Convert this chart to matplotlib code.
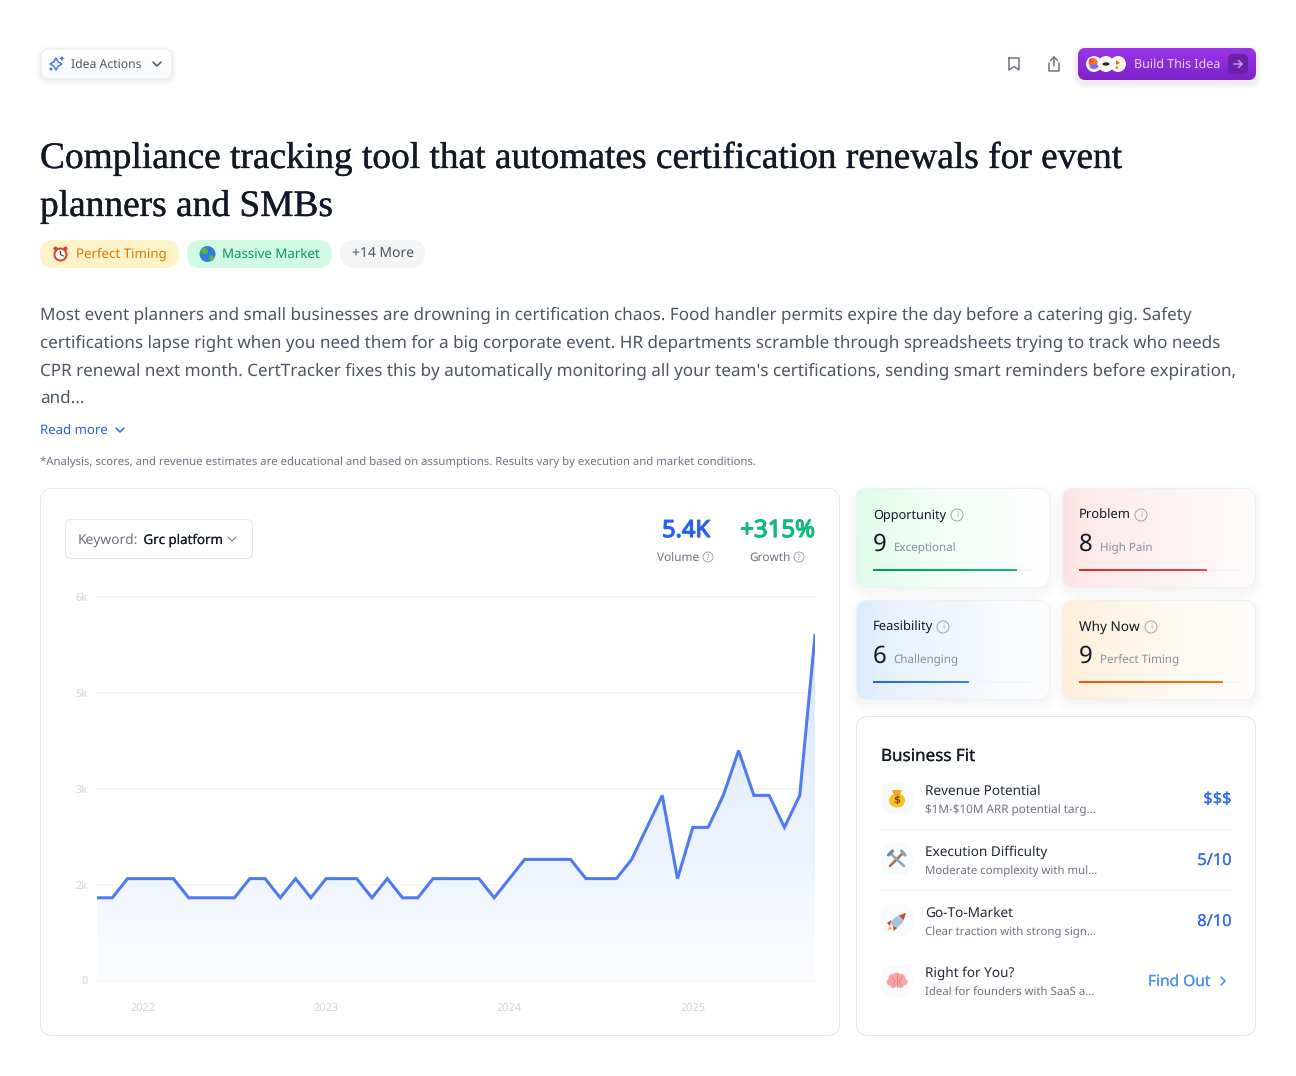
import matplotlib
matplotlib.use("Agg")
import matplotlib.pyplot as plt
import matplotlib.patheffects as pe
import numpy as np
from matplotlib.colors import to_rgb
from matplotlib.patches import Circle, Ellipse, FancyBboxPatch, Polygon

plt.rcParams["text.hinting"] = "no_hinting"
plt.rcParams["text.hinting_factor"] = 1

# search volume, one value per month
volume = [1300, 1300, 1600, 1600, 1600, 1600, 1300, 1300, 1300, 1300, 1600, 1600,
          1300, 1600, 1300, 1600, 1600, 1600, 1300, 1600, 1300, 1300, 1600, 1600,
          1600, 1600, 1300, 1600, 1900, 1900, 1900, 1900, 1600, 1600, 1600, 1900,
          2400, 2900, 1600, 2400, 2400, 2900, 3600, 2900, 2900, 2400, 2900, 5400]
year_ticks = [3, 15, 27, 39]
year_labels = ["2022", "2023", "2024", "2025"]
y_ticks = [0, 1500, 3000, 4500, 6000]
y_labels = ["0", "2k", "3k", "5k", "6k"]

title_lines = ["Compliance tracking tool that automates certification renewals for event",
               "planners and SMBs"]
body_lines = ["Most event planners and small businesses are drowning in certification chaos. Food handler permits expire the day before a catering gig. Safety",
              "certifications lapse right when you need them for a big corporate event. HR departments scramble through spreadsheets trying to track who needs",
              "CPR renewal next month. CertTracker fixes this by automatically monitoring all your team's certifications, sending smart reminders before expiration,",
              "and..."]
disclaimer = "*Analysis, scores, and revenue estimates are educational and based on assumptions. Results vary by execution and market conditions."

score_names = ["Opportunity", "Problem", "Feasibility", "Why Now"]
score_values = [9, 8, 6, 9]
score_notes = ["Exceptional", "High Pain", "Challenging", "Perfect Timing"]

fit_names = ["Revenue Potential", "Execution Difficulty", "Go-To-Market", "Right for You?"]
fit_notes = ["$1M-$10M ARR potential targ...", "Moderate complexity with mul...",
             "Clear traction with strong sign...", "Ideal for founders with SaaS a..."]
fit_values = ["$$$", "5/10", "8/10"]

FONT = "Noto Sans"
INK = "#111827"
GREY = "#6b7280"
BLUE = "#2563eb"

fig = plt.figure(figsize=(12.96, 10.76), dpi=100, facecolor="white")
ui = fig.add_axes([0, 0, 1, 1])
ui.set_xlim(0, 1296)
ui.set_ylim(1076, 0)
ui.axis("off")


def t(x, y, s, px, color=INK, ha="left", family=FONT, stroke=0, z=10):
    txt = ui.text(x, y, s, fontsize=px * 0.72, color=color, ha=ha, va="baseline",
                  family=family, zorder=z, parse_math=False)
    if stroke:
        txt.set_path_effects([pe.withStroke(linewidth=stroke, foreground=color)])


def rbox(x0, y0, x1, y1, r, fc="white", ec="none", lw=1.0, z=3):
    p = FancyBboxPatch((x0 + r, y0 + r), x1 - x0 - 2 * r, y1 - y0 - 2 * r,
                       boxstyle=f"round,pad={r}", fc=fc, ec=ec, lw=lw * 0.72, zorder=z)
    ui.add_patch(p)
    return p


def shadow(x0, y0, x1, y1, r, dy=3, spread=7, alpha=0.012, z=2):
    for i in range(spread, 0, -1):
        p = rbox(x0 - i, y0 - i + dy, x1 + i, y1 + i + dy, r + i, fc="#0f172a", z=z)
        p.set_alpha(alpha)


def grad(x0, y0, x1, y1, c0, c1, clip=None, horizontal=True, ease=1.0, z=3):
    a, b = np.array(to_rgb(c0)), np.array(to_rgb(c1))
    n = (np.linspace(0, 1, 64) ** ease)[:, None] * (b - a) + a
    img = n[None, :, :] if horizontal else n[:, None, :]
    im = ui.imshow(img, extent=(x0, x1, y1, y0), aspect="auto", interpolation="bilinear", zorder=z)
    if clip is not None:
        im.set_clip_path(clip)
    return im


def info(x, y, mark, r=5.5, color="#9ca3af"):
    ui.add_patch(Circle((x, y), r, fc="none", ec=color, lw=0.7, zorder=9))
    ui.text(x, y + 0.3, mark, fontsize=6, color=color, ha="center", va="center", family=FONT, zorder=10)


def icon_line(xs, ys, color, lw=1.5, z=9):
    ui.plot(xs, ys, color=color, lw=lw * 0.72, solid_capstyle="round", solid_joinstyle="round", zorder=z)


# top bar
shadow(41, 49, 172, 79, 8, dy=2, spread=5, alpha=0.01)
btn = rbox(41, 49, 172, 79, 8, fc="white")
grad(41, 49, 172, 79, "#ffffff", "#f8fafc", clip=btn, horizontal=False, z=3)
rbox(41, 49, 172, 79, 8, fc="none", ec="#e5e7eb", lw=1, z=4)
ui.scatter([56], [64], marker=(4, 1, 0), s=75, facecolor="none", edgecolor="#3b6ff0", linewidth=1.0, zorder=9)
ui.scatter([62, 51], [58.5, 69], marker=(4, 1, 0), s=[14, 10], color="#3b6ff0", linewidth=0, zorder=9)
t(71, 68, "Idea Actions", 12.2, "#4b5563")
icon_line([153, 157, 161], [62, 66, 62], "#4b5563")

icon_line([1009, 1009, 1014, 1019, 1019, 1009], [58, 70, 66.5, 70, 58, 58], GREY)
icon_line([1049, 1049, 1059, 1059], [63, 70.5, 70.5, 63], GREY)
icon_line([1054, 1054], [66, 57], GREY)
icon_line([1050.5, 1054, 1057.5], [60.5, 57, 60.5], GREY)

shadow(1078, 48, 1256, 80, 8, dy=3, spread=6, alpha=0.012)
build = rbox(1078, 48, 1256, 80, 8, fc="#9333ea")
grad(1078, 48, 1256, 80, "#9a35ea", "#7c22c8", clip=build, horizontal=False, z=3)
rbox(1228, 54, 1248, 74, 5, fc="#6b21a8", z=5)
for cx in [1118, 1106, 1094]:
    ui.add_patch(Circle((cx, 64), 8, fc="#f8f8f8", ec="none", zorder=6))
ui.add_patch(Circle((1093, 62.5), 4.5, fc="#f97316", zorder=7))
ui.add_patch(Ellipse((1094, 66.5), 9, 5, fc="#8b6cf0", zorder=7))
ui.add_patch(Circle((1091, 60.5), 2, fc="#f43f5e", zorder=8))
ui.add_patch(Ellipse((1106, 64), 7, 3.2, fc="#222222", zorder=7))
ui.add_patch(Polygon([(1116, 60), (1120, 63), (1116, 65)], fc="#f97316", zorder=7))
ui.add_patch(Circle((1117, 67.5), 1.5, fc="#f59e0b", zorder=7))
t(1134.5, 68, "Build This Idea", 12.5, "#e9d9fb")
icon_line([1234, 1242], [64, 64], "#c9a4ee")
icon_line([1238.5, 1242, 1238.5], [60.5, 64, 67.5], "#c9a4ee")

# title and tags
t(40, 168, title_lines[0], 37.4, "#111827", family="Liberation Serif", stroke=0.25)
t(40, 216, title_lines[1], 37.4, "#111827", family="Liberation Serif", stroke=0.25)

rbox(40, 240, 179, 268, 14, fc="#fef3c7")
rbox(187, 240, 332, 268, 14, fc="#d1fae5")
rbox(340, 240, 425, 268, 14, fc="#f3f4f6")
ui.add_patch(Circle((60.5, 254.5), 6, fc="#fff7ed", ec="#dc3c32", lw=1.4, zorder=8))
icon_line([60.5, 60.5, 63.5], [251, 254.5, 256], "#333333", lw=1)
ui.add_patch(Circle((55.5, 248.5), 2, fc="#dc3c32", zorder=8))
ui.add_patch(Circle((65.5, 248.5), 2, fc="#dc3c32", zorder=8))
ui.add_patch(Circle((207.5, 254), 8, fc="#2f80d8", zorder=8))
ui.add_patch(Ellipse((204.5, 251), 7, 6, fc="#63b23f", zorder=9))
ui.add_patch(Ellipse((211.5, 258), 4.5, 6, fc="#63b23f", zorder=9))
t(75.5, 258, "Perfect Timing", 13.3, "#d97706")
t(222, 258, "Massive Market", 13.3, "#059669")
t(352, 258, "+14 More", 13.9, "#4b5563")

# description
for i, line in enumerate(body_lines):
    t(40, 320 + 28 * i, line, 17.06, "#4b5563")
t(40, 434, "Read more", 13.2, BLUE)
icon_line([116, 120, 124], [428, 432, 428], BLUE)
t(40, 465, disclaimer, 11.37, GREY)

# chart card
rbox(40.5, 488.5, 839.5, 1035.5, 12, fc="white", ec="#e2e8f0")
rbox(65.5, 519.5, 252.5, 558.5, 6, fc="white", ec="#e2e8f0")
t(78, 544, "Keyword:", 13.8, GREY)
t(143.5, 544, "Grc platform", 13.3, INK, stroke=0.08)
icon_line([228, 232, 236], [537, 541, 537], GREY, lw=1)
t(710, 537, "5.4K", 23.6, BLUE, ha="right", stroke=0.9)
t(815, 537, "+315%", 24, "#10b981", ha="right", stroke=0.9)
t(657, 561.5, "Volume", 11.8, GREY)
info(708, 557, "?", r=5)
t(749, 561.5, "Growth", 11.8, GREY)
info(799, 557, "?", r=5)

# score cards
icon_offset = [84, 62, 70, 72]
name_size = [12.7, 13, 13, 13.6]
for i, name in enumerate(score_names):
    x0 = 856.5 + 206 * (i % 2)
    y0 = 488.5 + 112 * (i // 2)
    x1, y1 = x0 + 193, y0 + 99
    left = ["#dcfce7", "#fee2e2", "#dbeafe", "#ffedd5"][i]
    right = ["#ffffff", "#fffafa", "#fcfdff", "#fffdfa"][i]
    shadow(x0, y0, x1, y1, 12, dy=4, spread=9, alpha=0.005)
    card = rbox(x0, y0, x1, y1, 12, fc="white")
    grad(x0, y0, x1, y1, left, right, clip=card, ease=0.6)
    rbox(x0, y0, x1, y1, 12, fc="none", ec="#eceff4", z=4)
    tx = x0 + 16.5
    t(tx, y0 + 30.5, name, name_size[i], INK)
    info(tx + icon_offset[i], y0 + 26.5, "i", r=6)
    t(tx, y0 + 62.5, str(score_values[i]), 24, INK)
    t(tx + 20.5, y0 + 62.5, score_notes[i], 11.6, "#868e9b")
    bar_w = 160
    ui.barh(y0 + 81.5, bar_w, left=tx, height=2, color="#f3f4f6", zorder=5)
    c0 = ["#059669", "#dc2626", "#2563eb", "#ea580c"][i]
    c1 = ["#10b981", "#ef4444", "#3b82f6", "#f97316"][i]
    grad(tx, y0 + 80.5, tx + bar_w * score_values[i] / 10, y0 + 82.5, c0, c1, z=6)

# business fit
rbox(856.5, 716.5, 1255.5, 1035.5, 12, fc="white", ec="#e2e8f0")
t(881, 761, "Business Fit", 17, INK, stroke=0.12)
row_y = [798, 859, 920, 981]
name_y = [795, 855.5, 917, 977]
note_y = [813, 874, 935, 995]
note_size = [11.7, 11.4, 11.4, 11.4]
for i, name in enumerate(fit_names):
    y = row_y[i]
    rbox(881, y - 16, 913, y + 16, 12, fc="#f8fafc", z=4)
    t(925, name_y[i], name, 13.6, "#1f2937")
    t(925, note_y[i], fit_notes[i], note_size[i], GREY)
    if i < 3:
        t(1231.5, y + 6, fit_values[i], 16.4, "#2f6bf0", ha="right", stroke=0.12)
    if i < 2:
        ui.plot([881, 1231], [y + 31, y + 31], color="#f3f4f6", lw=1, zorder=4)
t(1148, 986, "Find Out", 15.5, "#4d8ff5", stroke=0.12)
icon_line([1221, 1225, 1221], [977, 981, 985], "#4d8ff5", lw=1.6)

# emoji stand-ins
ui.add_patch(Ellipse((897, 800.5), 16, 14, fc="#fbbf24", zorder=8))
ui.add_patch(Polygon([(892, 790), (902, 790), (899.5, 796), (894.5, 796)], fc="#f5a623", zorder=8))
ui.text(897, 801, "$", fontsize=7, color="#7c4a03", ha="center", va="center", weight="bold", zorder=9, parse_math=False)
icon_line([890, 903], [866, 853], "#a9744f", lw=2.6)
icon_line([890, 904], [853, 866], "#8aa6b8", lw=2.6)
icon_line([888.5, 892.5], [855, 851], "#6f8a9c", lw=3.2)
icon_line([901.5, 905], [851, 855], "#8aa6b8", lw=3.2)
ui.add_patch(Polygon([(906, 913), (903, 922), (896, 929), (889.5, 922.5), (897, 916)], fc="#a9c4d6", zorder=8))
ui.add_patch(Polygon([(906, 913), (903.5, 920), (899, 915.5)], fc="#d9412f", zorder=9))
ui.add_patch(Polygon([(891, 920), (887, 923), (890, 926)], fc="#d9412f", zorder=8))
ui.add_patch(Polygon([(897, 928), (893.5, 931), (893, 926)], fc="#d9412f", zorder=8))
ui.add_patch(Polygon([(890, 926), (888, 930), (892, 929)], fc="#f5a623", zorder=8))
for cx, cy, r in [(892.5, 978, 4), (897, 976.5, 4), (901.5, 978, 4), (904, 982, 3.5), (890, 982, 3.5),
                  (893.5, 984.5, 3.5), (900.5, 984.5, 3.5), (897, 982, 4)]:
    ui.add_patch(Circle((cx, cy), r, fc="#f4a6a6", zorder=8))
icon_line([897, 897], [974, 987], "#e27d7d", lw=0.8, z=9)
icon_line([892, 895, 893], [977, 981, 985], "#e27d7d", lw=0.8, z=9)
icon_line([902, 899, 901], [977, 981, 985], "#e27d7d", lw=0.8, z=9)

# line chart
ax = fig.add_axes([97 / 1296, 1 - 981 / 1076, (815 - 97) / 1296, (981 - 597) / 1076], zorder=5)
ax.patch.set_alpha(0)
x = np.arange(len(volume))
for s in ax.spines.values():
    s.set_visible(False)
ax.set_yticks(y_ticks)
ax.set_yticklabels(y_labels, family=FONT, fontsize=7.9, color="#cbd5e1")
ax.set_xticks(year_ticks)
ax.set_xticklabels(year_labels, family=FONT, fontsize=7.9, color="#cbd5e1")
ax.tick_params(axis="y", length=0, pad=7)
ax.tick_params(axis="x", length=0, pad=16)
ax.grid(axis="y", color="#f3f4f6", lw=1.1, clip_on=False)
ax.set_axisbelow(True)

top = max(volume)
low_c, high_c = np.array(to_rgb("#fbfcff")), np.array(to_rgb("#d3e4fd"))
shade = np.linspace(0, 1, 128)[:, None, None] * (high_c - low_c) + low_c
area = ax.fill_between(x, 0, volume, color="none")
im = ax.imshow(shade, extent=(0, len(volume) - 1, 0, top), origin="lower", aspect="auto",
               interpolation="bilinear", zorder=1.5, alpha=0.9)
im.set_clip_path(area.get_paths()[0], transform=ax.transData)
ax.set_xlim(0, len(volume) - 1)
ax.set_ylim(0, 6000)
ax.plot(x, volume, color="#4f7bf0", lw=2.2, solid_joinstyle="miter", zorder=3)

ui.set_xlim(0, 1296)
ui.set_ylim(1076, 0)
fig.savefig("out.png", dpi=100)
